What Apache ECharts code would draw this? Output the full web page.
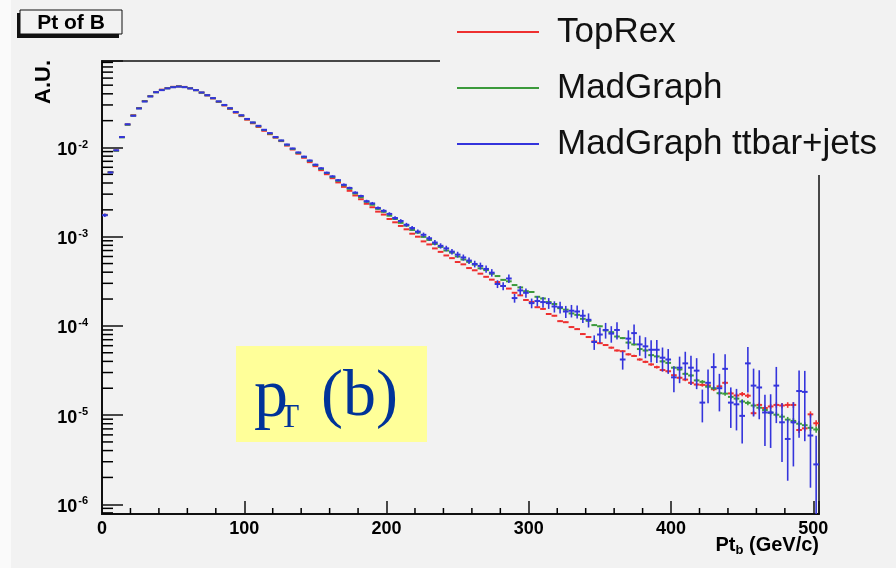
<!DOCTYPE html>
<html>
<head>
<meta charset="utf-8">
<script src="https://cdn.jsdelivr.net/npm/echarts@6/dist/echarts.min.js"></script>
<style>
html, body { margin: 0; padding: 0; background: #f2f2f2; }
#main { width: 896px; height: 568px; }
</style>
</head>
<body>
<div id="main"></div>
<script>
// 4 GeV bins from 0 to 504 GeV
var binWidth = 4;
var binCenters = [];
for (var c = binWidth / 2; c < 504; c += binWidth) binCenters.push(c);

var seriesNames = ['TopRex', 'MadGraph', 'MadGraph ttbar+jets'];
var seriesColors = ['#ee3030', '#3c9a3c', '#3434dc'];

// A.U. per bin
var topRex = [
  1.76e-3, 5.30e-3, 9.25e-3, 1.31e-2, 1.81e-2, 2.30e-2, 2.77e-2, 3.32e-2, 3.77e-2, 4.18e-2,
  4.45e-2, 4.64e-2, 4.79e-2, 4.86e-2, 4.78e-2, 4.62e-2, 4.40e-2, 4.12e-2, 3.84e-2, 3.55e-2,
  3.25e-2, 2.96e-2, 2.71e-2, 2.46e-2, 2.25e-2, 2.05e-2, 1.87e-2, 1.70e-2, 1.54e-2, 1.41e-2,
  1.29e-2, 1.18e-2, 1.05e-2, 9.50e-3, 8.52e-3, 7.67e-3, 6.85e-3, 6.18e-3, 5.57e-3, 5.02e-3,
  4.53e-3, 4.06e-3, 3.62e-3, 3.27e-3, 2.90e-3, 2.63e-3, 2.34e-3, 2.14e-3, 1.91e-3, 1.77e-3,
  1.58e-3, 1.45e-3, 1.32e-3, 1.21e-3, 1.08e-3, 1.00e-3, 8.86e-4, 8.19e-4, 7.39e-4, 6.76e-4,
  6.16e-4, 5.75e-4, 5.20e-4, 4.90e-4, 4.45e-4, 4.20e-4, 3.85e-4, 3.55e-4, 3.30e-4, 3.10e-4,
  2.80e-4, 2.62e-4, 2.35e-4, 2.20e-4, 1.95e-4, 1.86e-4, 1.62e-4, 1.55e-4, 1.36e-4, 1.30e-4,
  1.13e-4, 1.10e-4, 9.70e-5, 9.20e-5, 8.10e-5, 7.50e-5, 6.70e-5, 6.40e-5, 6.10e-5, 5.70e-5,
  5.30e-5, 5.20e-5, 4.80e-5, 4.60e-5, 4.20e-5, 3.95e-5, 3.70e-5, 3.45e-5, 3.20e-5, 3.10e-5,
  2.80e-5, 2.62e-5, 2.50e-5, 2.30e-5, 2.20e-5, 2.18e-5, 2.15e-5, 1.95e-5, 2.10e-5, 2.30e-5,
  1.75e-5, 1.66e-5, 1.72e-5, 1.65e-5, 1.05e-5, 1.30e-5, 1.20e-5, 1.25e-5, 1.30e-5, 1.28e-5,
  1.30e-5, 1.30e-5, 6.80e-6, 7.10e-6, 1.02e-5, 8.10e-6
];
var madGraph = [
  1.75e-3, 5.27e-3, 9.20e-3, 1.30e-2, 1.80e-2, 2.28e-2, 2.75e-2, 3.30e-2, 3.75e-2, 4.16e-2,
  4.42e-2, 4.61e-2, 4.76e-2, 4.84e-2, 4.76e-2, 4.61e-2, 4.39e-2, 4.12e-2, 3.85e-2, 3.57e-2,
  3.27e-2, 2.99e-2, 2.74e-2, 2.49e-2, 2.28e-2, 2.08e-2, 1.90e-2, 1.73e-2, 1.57e-2, 1.43e-2,
  1.30e-2, 1.19e-2, 1.07e-2, 9.64e-3, 8.69e-3, 7.83e-3, 7.06e-3, 6.37e-3, 5.74e-3, 5.18e-3,
  4.67e-3, 4.23e-3, 3.77e-3, 3.44e-3, 3.05e-3, 2.77e-3, 2.46e-3, 2.28e-3, 2.05e-3, 1.90e-3,
  1.72e-3, 1.58e-3, 1.43e-3, 1.33e-3, 1.19e-3, 1.11e-3, 9.95e-4, 9.20e-4, 8.30e-4, 7.68e-4,
  7.00e-4, 6.62e-4, 6.00e-4, 5.55e-4, 5.22e-4, 4.86e-4, 4.42e-4, 4.22e-4, 3.84e-4, 3.62e-4,
  3.28e-4, 3.16e-4, 2.87e-4, 2.70e-4, 2.45e-4, 2.40e-4, 2.12e-4, 2.03e-4, 1.85e-4, 1.76e-4,
  1.58e-4, 1.52e-4, 1.38e-4, 1.33e-4, 1.20e-4, 1.14e-4, 1.02e-4, 9.90e-5, 8.90e-5, 8.50e-5,
  7.60e-5, 7.30e-5, 6.50e-5, 6.20e-5, 5.50e-5, 5.30e-5, 4.70e-5, 4.55e-5, 4.00e-5, 3.85e-5,
  3.40e-5, 3.25e-5, 2.90e-5, 2.78e-5, 2.45e-5, 2.36e-5, 2.08e-5, 2.00e-5, 1.76e-5, 1.74e-5,
  1.60e-5, 1.53e-5, 1.42e-5, 1.37e-5, 1.28e-5, 1.21e-5, 1.14e-5, 1.06e-5, 1.01e-5, 9.60e-6,
  8.90e-6, 8.60e-6, 8.00e-6, 7.70e-6, 7.20e-6, 6.90e-6
];
var ttbarJets = [
  1.74e-3, 5.25e-3, 9.30e-3, 1.31e-2, 1.82e-2, 2.27e-2, 2.74e-2, 3.28e-2, 3.74e-2, 4.17e-2,
  4.40e-2, 4.60e-2, 4.74e-2, 4.82e-2, 4.75e-2, 4.60e-2, 4.40e-2, 4.14e-2, 3.86e-2, 3.58e-2,
  3.29e-2, 3.00e-2, 2.76e-2, 2.50e-2, 2.30e-2, 2.09e-2, 1.91e-2, 1.75e-2, 1.58e-2, 1.45e-2,
  1.31e-2, 1.20e-2, 1.08e-2, 9.75e-3, 8.80e-3, 7.90e-3, 7.15e-3, 6.42e-3, 5.85e-3, 5.22e-3,
  4.75e-3, 4.30e-3, 3.82e-3, 3.52e-3, 3.12e-3, 2.86e-3, 2.50e-3, 2.36e-3, 2.10e-3, 1.95e-3,
  1.80e-3, 1.62e-3, 1.50e-3, 1.36e-3, 1.25e-3, 1.14e-3, 1.05e-3, 9.60e-4, 8.60e-4, 7.90e-4,
  7.40e-4, 6.80e-4, 6.30e-4, 5.85e-4, 5.40e-4, 4.95e-4, 4.70e-4, 4.35e-4, 3.95e-4, 2.95e-4,
  2.80e-4, 3.40e-4, 2.05e-4, 2.50e-4, 2.35e-4, 1.80e-4, 1.90e-4, 1.85e-4, 1.80e-4, 1.65e-4,
  1.62e-4, 1.45e-4, 1.48e-4, 1.45e-4, 1.30e-4, 1.17e-4, 6.60e-5, 8.00e-5, 9.00e-5, 8.20e-5,
  9.00e-5, 4.20e-5, 7.20e-5, 8.30e-5, 6.20e-5, 5.90e-5, 5.40e-5, 5.40e-5, 4.40e-5, 4.20e-5,
  2.65e-5, 3.40e-5, 3.80e-5, 3.40e-5, 3.15e-5, 1.38e-5, 2.30e-5, 3.45e-5, 2.00e-5, 3.30e-5,
  1.38e-5, 1.32e-5, 9.80e-6, 3.80e-5, 2.14e-5, 2.04e-5, 1.07e-5, 1.07e-5, 2.14e-5, 8.30e-6,
  5.40e-6, 8.30e-6, 1.86e-5, 1.82e-5, 5.90e-6, 2.80e-6
];

// relative statistical errors per bin
var topRexErr = [
  0.005, 0.003, 0.002, 0.002, 0.002, 0.002, 0.002, 0.002, 0.002, 0.002,
  0.002, 0.002, 0.002, 0.002, 0.002, 0.002, 0.002, 0.002, 0.002, 0.002,
  0.002, 0.002, 0.002, 0.002, 0.002, 0.002, 0.002, 0.002, 0.002, 0.002,
  0.002, 0.003, 0.003, 0.003, 0.003, 0.003, 0.003, 0.003, 0.003, 0.003,
  0.003, 0.003, 0.004, 0.004, 0.004, 0.004, 0.005, 0.005, 0.005, 0.005,
  0.005, 0.006, 0.006, 0.006, 0.006, 0.007, 0.007, 0.007, 0.008, 0.008,
  0.008, 0.009, 0.009, 0.009, 0.010, 0.010, 0.010, 0.011, 0.011, 0.012,
  0.012, 0.013, 0.013, 0.014, 0.014, 0.015, 0.015, 0.016, 0.016, 0.017,
  0.018, 0.018, 0.019, 0.020, 0.021, 0.021, 0.022, 0.023, 0.024, 0.025,
  0.026, 0.027, 0.028, 0.029, 0.030, 0.031, 0.032, 0.033, 0.035, 0.036,
  0.037, 0.039, 0.040, 0.042, 0.043, 0.045, 0.046, 0.048, 0.050, 0.051,
  0.053, 0.055, 0.057, 0.059, 0.061, 0.063, 0.064, 0.066, 0.068, 0.070,
  0.072, 0.074, 0.076, 0.078, 0.080, 0.082
];
var madGraphErr = [
  0.005, 0.003, 0.002, 0.002, 0.002, 0.002, 0.002, 0.002, 0.002, 0.002,
  0.002, 0.002, 0.002, 0.002, 0.002, 0.002, 0.002, 0.002, 0.002, 0.002,
  0.002, 0.002, 0.002, 0.002, 0.002, 0.002, 0.002, 0.002, 0.002, 0.002,
  0.002, 0.003, 0.003, 0.003, 0.003, 0.003, 0.003, 0.003, 0.003, 0.003,
  0.003, 0.003, 0.004, 0.004, 0.004, 0.004, 0.005, 0.005, 0.005, 0.005,
  0.005, 0.006, 0.006, 0.006, 0.006, 0.007, 0.007, 0.007, 0.008, 0.008,
  0.008, 0.009, 0.009, 0.009, 0.010, 0.010, 0.010, 0.011, 0.011, 0.012,
  0.012, 0.013, 0.013, 0.014, 0.014, 0.015, 0.015, 0.016, 0.016, 0.017,
  0.018, 0.018, 0.019, 0.020, 0.021, 0.021, 0.022, 0.023, 0.024, 0.025,
  0.026, 0.027, 0.028, 0.029, 0.030, 0.031, 0.032, 0.033, 0.035, 0.036,
  0.037, 0.039, 0.040, 0.042, 0.043, 0.045, 0.046, 0.048, 0.050, 0.051,
  0.053, 0.055, 0.057, 0.059, 0.061, 0.063, 0.064, 0.066, 0.068, 0.070,
  0.072, 0.074, 0.076, 0.078, 0.080, 0.082
];
var ttbarJetsErr = [
  0.046, 0.026, 0.020, 0.017, 0.014, 0.013, 0.011, 0.010, 0.010, 0.009,
  0.009, 0.009, 0.009, 0.009, 0.009, 0.009, 0.009, 0.009, 0.010, 0.010,
  0.010, 0.011, 0.011, 0.012, 0.013, 0.013, 0.014, 0.014, 0.015, 0.016,
  0.017, 0.017, 0.018, 0.019, 0.020, 0.021, 0.022, 0.024, 0.025, 0.026,
  0.028, 0.029, 0.031, 0.032, 0.034, 0.035, 0.038, 0.039, 0.041, 0.043,
  0.045, 0.047, 0.049, 0.051, 0.054, 0.056, 0.059, 0.061, 0.065, 0.068,
  0.070, 0.073, 0.076, 0.079, 0.083, 0.086, 0.089, 0.092, 0.096, 0.100,
  0.104, 0.108, 0.112, 0.116, 0.120, 0.125, 0.130, 0.134, 0.139, 0.144,
  0.150, 0.155, 0.160, 0.165, 0.170, 0.180, 0.185, 0.190, 0.200, 0.210,
  0.220, 0.230, 0.240, 0.245, 0.255, 0.265, 0.280, 0.290, 0.300, 0.310,
  0.320, 0.330, 0.350, 0.360, 0.380, 0.400, 0.410, 0.430, 0.450, 0.460,
  0.480, 0.490, 0.510, 0.530, 0.550, 0.560, 0.580, 0.600, 0.620, 0.640,
  0.660, 0.680, 0.700, 0.720, 0.740, 1.100
];

var yMin = 7.78e-7, yMax = 0.0933;
var xMin = 0, xMax = 504;

// ROOT-style minor ticks: 2..9 x 10^n on the log axis, every 20 GeV on x
var yMinorTicks = [];
for (var e = -7; e <= -1; e++) {
  for (var m = 2; m <= 9; m++) {
    var t = m * Math.pow(10, e);
    if (t > yMin && t < yMax) yMinorTicks.push([0, t]);
  }
}
var xMinorTicks = [];
for (var t2 = 20; t2 < xMax; t2 += 20) {
  if (t2 % 100 !== 0) xMinorTicks.push([t2, yMin]);
}

function toItems(vals, errs) {
  return vals.map(function (v, i) {
    return [binCenters[i], v, v * (1 - errs[i]), v * (1 + errs[i])];
  });
}

function crossRenderer(color) {
  return function (params, api) {
    var x = api.value(0), y = api.value(1), lo = api.value(2), hi = api.value(3);
    var p = api.coord([x, y]);
    var l = api.coord([x - binWidth / 2, y]);
    var r = api.coord([x + binWidth / 2, y]);
    var top = api.coord([x, hi]);
    var bot = api.coord([x, lo > yMin ? lo : yMin]);
    return {
      type: 'group',
      children: [
        { type: 'line', shape: { x1: l[0], y1: p[1], x2: r[0], y2: p[1] },
          style: { stroke: color, lineWidth: 2 } },
        { type: 'line', shape: { x1: p[0], y1: top[1], x2: p[0], y2: bot[1] },
          style: { stroke: color, lineWidth: 1.6 } }
      ]
    };
  };
}

var font = '"Liberation Sans", Arial, sans-serif';
var serif = '"Liberation Serif", "Times New Roman", serif';

var series = [
  [topRex, topRexErr], [madGraph, madGraphErr], [ttbarJets, ttbarJetsErr]
].map(function (s, k) {
  return {
    name: seriesNames[k],
    type: 'custom',
    clip: true,
    itemStyle: { color: seriesColors[k] },
    renderItem: crossRenderer(seriesColors[k]),
    encode: { x: 0, y: 1 },
    data: toItems(s[0], s[1]),
    z: 3 + k
  };
});

series.push({
  type: 'custom',
  silent: true,
  renderItem: function (params, api) {
    var p = api.coord([api.value(0), api.value(1)]);
    return { type: 'line', shape: { x1: p[0], y1: p[1], x2: p[0] + 11, y2: p[1] },
      style: { stroke: '#000', lineWidth: 1.5 } };
  },
  data: yMinorTicks,
  z: 2
});
series.push({
  type: 'custom',
  silent: true,
  renderItem: function (params, api) {
    var p = api.coord([api.value(0), api.value(1)]);
    return { type: 'line', shape: { x1: p[0], y1: p[1], x2: p[0], y2: p[1] - 6 },
      style: { stroke: '#000', lineWidth: 1.5 } };
  },
  data: xMinorTicks,
  z: 2
});

var myChart = echarts.init(document.getElementById('main'));

var option = {
  backgroundColor: '#f2f2f2',
  animation: false,
  grid: {
    left: 102, top: 61, right: 77, bottom: 54,
    show: true, borderColor: '#111', borderWidth: 1.5, backgroundColor: 'transparent'
  },
  legend: {
    data: seriesNames,
    orient: 'vertical',
    left: 440, top: 0,
    padding: [4, 30, 3, 17],
    itemGap: 0,
    itemWidth: 82, itemHeight: 2,
    icon: 'rect',
    backgroundColor: '#f2f2f2',
    selectedMode: false,
    textStyle: { fontFamily: font, fontSize: 35, color: '#111', lineHeight: 56, padding: [0, 0, 0, 13] }
  },
  xAxis: {
    type: 'value',
    min: xMin, max: xMax, interval: 100,
    splitLine: { show: false },
    axisLine: { lineStyle: { color: '#111', width: 2 } },
    axisTick: { inside: true, length: 13, lineStyle: { color: '#111', width: 1.5 } },
    axisLabel: {
      margin: 6, color: '#000', fontFamily: font, fontWeight: 'bold', fontSize: 18,
      formatter: function (v) { return v % 100 === 0 ? String(v) : ''; }
    }
  },
  yAxis: {
    type: 'log',
    min: yMin, max: yMax,
    splitLine: { show: false },
    axisLine: { lineStyle: { color: '#111', width: 2 } },
    axisTick: { inside: true, length: 21, lineStyle: { color: '#111', width: 1.5 } },
    axisLabel: {
      margin: 14,
      formatter: function (v) {
        var e = Math.log10(v), r = Math.round(e);
        if (Math.abs(e - r) > 1e-6) return '';
        return '{b|10}{s|' + r + '}';
      },
      rich: {
        b: { fontFamily: font, fontWeight: 'bold', fontSize: 18, color: '#000', lineHeight: 18, padding: [5, 0, 0, 0] },
        s: { fontFamily: font, fontWeight: 'bold', fontSize: 11, color: '#000', lineHeight: 11, padding: [3, 0, 9, 1] }
      }
    }
  },
  graphic: [
    { type: 'rect', shape: { x: 0, y: 0, width: 11, height: 568 }, style: { fill: '#fafafa' }, silent: true },
    { type: 'rect', shape: { x: 17, y: 13, width: 102, height: 25 }, style: { fill: '#111' }, silent: true },
    { type: 'rect', shape: { x: 20, y: 10, width: 102, height: 24 },
      style: { fill: '#f2f2f2', stroke: '#111', lineWidth: 1 }, silent: true },
    { type: 'text', x: 71, y: 23, silent: true,
      style: { text: 'Pt of B', align: 'center', verticalAlign: 'middle', fill: '#000',
        fontFamily: font, fontWeight: 'bold', fontSize: 21 } },
    { type: 'text', x: 44, y: 82, rotation: Math.PI / 2, silent: true,
      style: { text: 'A.U.', align: 'center', verticalAlign: 'middle', fill: '#000',
        fontFamily: font, fontWeight: 'bold', fontSize: 22 } },
    { type: 'text', x: 819, y: 545, silent: true,
      style: {
        text: '{a|Pt}{s|b}{a| (GeV/c)}', align: 'right', verticalAlign: 'middle',
        rich: {
          a: { fontFamily: font, fontWeight: 'bold', fontSize: 20, fill: '#000', lineHeight: 24 },
          s: { fontFamily: font, fontWeight: 'bold', fontSize: 13, fill: '#000', lineHeight: 14, padding: [10, 0, 0, 0] }
        }
      } },
    { type: 'rect', shape: { x: 236, y: 346, width: 191, height: 96 }, style: { fill: '#ffff99' }, silent: true },
    { type: 'text', x: 254, y: 398, silent: true,
      style: { text: 'p', align: 'left', verticalAlign: 'middle', fill: '#003399',
        fontFamily: serif, fontSize: 68 } },
    { type: 'text', x: 279, y: 418, silent: true,
      style: { text: 'T', align: 'left', verticalAlign: 'middle', fill: '#003399',
        fontFamily: serif, fontSize: 33 } },
    { type: 'text', x: 321, y: 398, silent: true,
      style: { text: '(b)', align: 'left', verticalAlign: 'middle', fill: '#003399',
        fontFamily: serif, fontSize: 66 } }
  ],
  series: series
};

myChart.setOption(option);
</script>
</body>
</html>
